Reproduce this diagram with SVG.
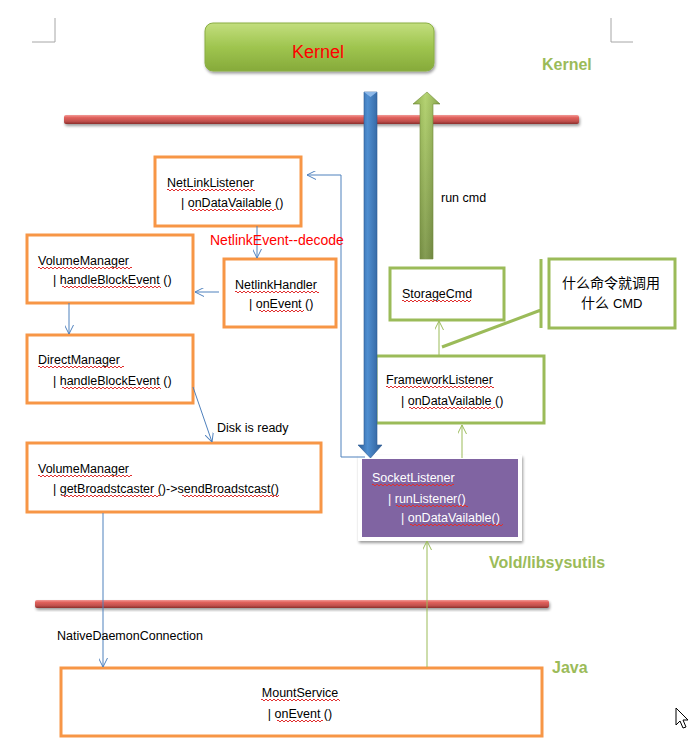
<svg xmlns="http://www.w3.org/2000/svg" width="690" height="740" viewBox="0 0 690 740">
<defs>
<style>
.t{font-family:"Liberation Sans",Arial,sans-serif;font-size:12.5px;fill:#000}
.tw{font-family:"Liberation Sans",Arial,sans-serif;font-size:12.5px;fill:#fff}
.cjk{font-family:"Liberation Sans","Noto Sans CJK SC",sans-serif;font-size:14px;fill:#000}
.lbl{font-family:"Liberation Sans",Arial,sans-serif;font-size:16px;font-weight:bold;fill:#9BBB59}
.ob{fill:#fff;stroke:#F79646;stroke-width:3}
.gb{fill:#fff;stroke:#9BBB59;stroke-width:3}
.cb{fill:none;stroke:#4F81BD;stroke-width:1}
.cg{fill:none;stroke:#9BBB59;stroke-width:1}
.corner{fill:none;stroke:#a6a6a6;stroke-width:1}
.wv{fill:none;stroke:#e03030;stroke-width:1;stroke-dasharray:2 2}
</style>
<marker id="ab" viewBox="0 0 10 10" refX="10" refY="5" markerWidth="9" markerHeight="9" markerUnits="userSpaceOnUse" orient="auto">
<path d="M0,0 L10,5 L0,10" fill="none" stroke="#4F81BD" stroke-width="1.1"/>
</marker>
<marker id="ag" viewBox="0 0 10 10" refX="10" refY="5" markerWidth="9" markerHeight="9" markerUnits="userSpaceOnUse" orient="auto">
<path d="M0,0 L10,5 L0,10" fill="none" stroke="#9BBB59" stroke-width="1.1"/>
</marker>
<linearGradient id="gk" x1="0" y1="0" x2="0" y2="1">
<stop offset="0" stop-color="#C3DE7E"/>
<stop offset="0.5" stop-color="#9FC54F"/>
<stop offset="1" stop-color="#86AA3A"/>
</linearGradient>
<linearGradient id="gr" x1="0" y1="0" x2="0" y2="1">
<stop offset="0" stop-color="#F29A97"/>
<stop offset="0.3" stop-color="#E0605B"/>
<stop offset="0.7" stop-color="#C0504D"/>
<stop offset="1" stop-color="#8C2F2C"/>
</linearGradient>
<linearGradient id="gbl" x1="0" y1="0" x2="1" y2="0">
<stop offset="0" stop-color="#2E5E98"/>
<stop offset="0.4" stop-color="#4F8ED0"/>
<stop offset="1" stop-color="#2B5A93"/>
</linearGradient>
<linearGradient id="ggr" x1="0" y1="0" x2="0" y2="1">
<stop offset="0" stop-color="#A9CD5B"/>
<stop offset="1" stop-color="#6E8A34"/>
</linearGradient>
<linearGradient id="ggh" x1="0" y1="0" x2="1" y2="0">
<stop offset="0" stop-color="#000" stop-opacity="0.15"/>
<stop offset="0.45" stop-color="#fff" stop-opacity="0.15"/>
<stop offset="1" stop-color="#000" stop-opacity="0.2"/>
</linearGradient>
<filter id="sh" x="-10%" y="-30%" width="120%" height="180%">
<feGaussianBlur in="SourceAlpha" stdDeviation="1.5"/>
<feOffset dx="1" dy="2" result="o"/>
<feComponentTransfer><feFuncA type="linear" slope="0.4"/></feComponentTransfer>
<feMerge><feMergeNode/><feMergeNode in="SourceGraphic"/></feMerge>
</filter>
</defs>
<rect width="690" height="740" fill="#fff"/>

<!-- page corners -->
<path class="corner" d="M32,42 H55 V18 M611,18 V42 H633"/>

<!-- layer labels -->
<text class="lbl" x="542" y="70">Kernel</text>
<text class="lbl" x="489" y="568">Vold/libsysutils</text>
<text class="lbl" x="552" y="673">Java</text>

<!-- layer bars -->
<rect x="64" y="115" width="515" height="9" rx="2" fill="url(#gr)" filter="url(#sh)"/>
<rect x="35" y="600" width="514" height="8" rx="2" fill="url(#gr)" filter="url(#sh)"/>

<!-- Kernel node -->
<g id="kernel">
<rect x="205" y="23" width="229" height="48" rx="8" fill="url(#gk)" stroke="#8AAE45" stroke-width="1" filter="url(#sh)"/>
<text x="318" y="58" text-anchor="middle" font-family="Liberation Sans, Arial, sans-serif" font-size="18" fill="#FF0000">Kernel</text>
</g>

<g id="netlinklistener">
<rect class="ob" x="155" y="157" width="146" height="69"/>
<text class="t" x="167" y="187">NetLinkListener</text>
<text class="t" x="181" y="207">| onDataVailable ()</text>
<path class="wv" d="M167,189.5h88M169,190.5h86"/>
<path class="wv" d="M190,209.5h86M192,210.5h84"/>
</g>

<g id="netlinkhandler">
<rect class="ob" x="224" y="259" width="112" height="68"/>
<text class="t" x="235" y="289">NetlinkHandler</text>
<text class="t" x="249" y="308">| onEvent ()</text>
<path class="wv" d="M235,291.5h84M237,292.5h82"/>
<path class="wv" d="M259,310.5h45M261,311.5h43"/>
</g>

<g id="volumemanager1">
<rect class="ob" x="27" y="235" width="166" height="68"/>
<text class="t" x="38" y="265">VolumeManager</text>
<text class="t" x="53" y="284">| handleBlockEvent ()</text>
<path class="wv" d="M38,267.5h94M40,268.5h92"/>
<path class="wv" d="M62,286.5h99M64,287.5h97"/>
</g>

<g id="directmanager">
<rect class="ob" x="27" y="335" width="166" height="68"/>
<text class="t" x="38" y="364">DirectManager</text>
<text class="t" x="53" y="385">| handleBlockEvent ()</text>
<path class="wv" d="M38,366.5h86M40,367.5h84"/>
<path class="wv" d="M62,387.5h99M64,388.5h97"/>
</g>

<g id="volumemanager2">
<rect class="ob" x="27" y="443" width="294" height="69"/>
<text class="t" x="38" y="473">VolumeManager</text>
<text class="t" x="53" y="493">| getBroadstcaster ()-&gt;sendBroadstcast()</text>
<path class="wv" d="M38,475.5h94M40,476.5h92"/>
<path class="wv" d="M62,495.5h98M64,496.5h96"/>
<path class="wv" d="M182,495.5h97M184,496.5h95"/>
</g>

<g id="storagecmd">
<rect class="gb" x="390" y="268" width="114" height="52"/>
<text class="t" x="402" y="298">StorageCmd</text>
<path class="wv" d="M402,300.5h69M404,301.5h67"/>
</g>

<g id="callout">
<rect class="gb" x="549" y="259" width="126" height="69"/>
<path d="M541,259 V328 M541,310 L442,347" fill="none" stroke="#9BBB59" stroke-width="3"/>
<text class="cjk" x="562" y="288">什么命令就调用</text>
<text class="cjk" x="581" y="308">什么 <tspan font-size="13">CMD</tspan></text>
</g>

<g id="frameworklistener">
<rect class="gb" x="376" y="356" width="168" height="67"/>
<text class="t" x="386" y="384">FrameworkListener</text>
<text class="t" x="401" y="405">| onDataVailable ()</text>
<path class="wv" d="M386,386.5h108M388,387.5h106"/>
<path class="wv" d="M409,407.5h86M411,408.5h84"/>
</g>

<g id="socketlistener">
<rect x="358" y="455" width="164" height="86" fill="#fff" filter="url(#sh)"/>
<rect x="362" y="459" width="156" height="78" fill="#8064A2"/>
<text class="tw" x="372" y="482">SocketListener</text>
<text class="tw" x="388" y="503">| runListener()</text>
<text class="tw" x="401" y="522">| onDataVailable()</text>
<path class="wv" d="M372,484.5h82M374,485.5h80"/>
<path class="wv" d="M396,505.5h72M398,506.5h70"/>
<path class="wv" d="M410,524.5h93M412,525.5h91"/>
</g>

<g id="mountservice">
<rect class="ob" x="61" y="668" width="481" height="68"/>
<text class="t" x="300" y="697" text-anchor="middle">MountService</text>
<text class="t" x="300" y="718" text-anchor="middle">| onEvent ()</text>
<path class="wv" d="M261,699.5h79M263,700.5h77"/>
<path class="wv" d="M277,720.5h46M279,721.5h44"/>
</g>

<!-- connectors -->
<g id="connectors">
<path class="cb" d="M257,226 V258" marker-end="url(#ab)"/>
<path class="cb" d="M219,292 H195" marker-end="url(#ab)"/>
<path class="cb" d="M69,303 V334" marker-end="url(#ab)"/>
<path class="cb" d="M193,387 L212,442" marker-end="url(#ab)"/>
<path class="cb" d="M103,513 V667" marker-end="url(#ab)"/>
<path class="cb" d="M365,457 H341 V175 H307" marker-end="url(#ab)"/>
<path class="cg" d="M427,667 V541" marker-end="url(#ag)"/>
<path class="cg" d="M462,458 V425" marker-end="url(#ag)"/>
<path class="cg" d="M439,355 V321" marker-end="url(#ag)"/>
<!-- block arrows -->
<path d="M364,92 H377 V445 H382 L370.5,458 L358,445 H364 Z" fill="url(#gbl)" stroke="#2B5A93" stroke-width="0.6"/>
<path d="M364,92 L370.5,97 L377,92 Z" fill="#8DB8E8"/>
<path d="M427,92 L440,104 H433 V259 H420 V104 H413 Z" fill="url(#ggr)" stroke="#6E8A34" stroke-width="0.6"/>
<path d="M427,92 L440,104 H433 V259 H420 V104 H413 Z" fill="url(#ggh)"/>
</g>

<text class="t" x="441" y="202" font-size="12">run cmd</text>
<text x="210" y="245" font-family="Liberation Sans, Arial, sans-serif" font-size="14" fill="#FF0000">NetlinkEvent--decode</text>
<text class="t" x="217" y="432">Disk is ready</text>
<text class="t" x="57" y="640">NativeDaemonConnection</text>

<!-- mouse cursor -->
<path d="M676,708 V725 L680,721 L683,728 L686,727 L683,720 L688,720 Z" fill="#fff" stroke="#000" stroke-width="1"/>
</svg>
